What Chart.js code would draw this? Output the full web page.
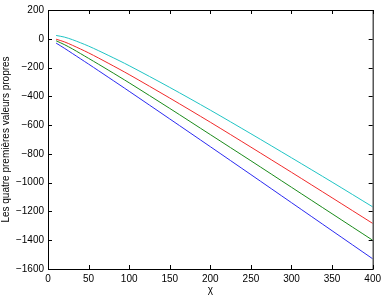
<!DOCTYPE html>
<html>
<head>
<meta charset="utf-8">
<script src="https://cdn.jsdelivr.net/npm/chart.js@4.4.1/dist/chart.umd.min.js"></script>
<style>
  html, body { margin: 0; padding: 0; background: #fff; }
  canvas { display: block; }
</style>
</head>
<body>
<canvas id="eigenChart" width="385" height="302"></canvas>
<script>
// Data
const chiValues = [10, 20, 30, 50, 75, 100, 150, 200, 250, 300, 350, 400];
const lambda1 = [-30, -65, -102, -176, -270, -365, -557, -750, -944, -1139, -1334, -1529];
const lambda2 = [-14, -40, -70, -136, -220, -306, -484, -666, -848, -1032, -1216, -1400];
const lambda3 = [-3, -21, -45, -98, -172, -249, -412, -580, -753, -928, -1105, -1283];
const lambda4 = [23, 12, -6, -51, -117, -187, -338, -496, -660, -827, -996, -1168];
const xTicks = [0, 50, 100, 150, 200, 250, 300, 350, 400];
const yTicks = [-1600, -1400, -1200, -1000, -800, -600, -400, -200, 0, 200];

const font = { family: '"Liberation Sans", Arial, Helvetica, sans-serif', size: 10 };

function toPoints(values) {
    return chiValues.map((c, i) => ({ x: c, y: values[i] }));
}

// MATLAB style minus sign
function minusSign(v) {
    return v < 0 ? '\u2212' + Math.abs(v) : String(v);
}

// Plot box with inward ticks on all four sides
const boxTicks = {
    id: 'boxTicks',
    afterDraw(chart) {
        const { ctx, chartArea: a, scales: { x, y } } = chart;
        const len = 4;
        ctx.save();
        ctx.strokeStyle = '#000';
        ctx.lineWidth = 1;
        ctx.strokeRect(a.left + 0.5, a.top + 0.5, a.right - a.left, a.bottom - a.top);
        ctx.beginPath();
        xTicks.forEach(v => {
            const px = Math.round(x.getPixelForValue(v)) + 0.5;
            ctx.moveTo(px, a.bottom); ctx.lineTo(px, a.bottom - len);
            ctx.moveTo(px, a.top); ctx.lineTo(px, a.top + len);
        });
        yTicks.forEach(v => {
            const py = Math.round(y.getPixelForValue(v)) + 0.5;
            ctx.moveTo(a.left, py); ctx.lineTo(a.left + len, py);
            ctx.moveTo(a.right, py); ctx.lineTo(a.right - len, py);
        });
        ctx.stroke();
        ctx.restore();
    }
};

const line = (data, color) => ({
    data: toPoints(data),
    borderColor: color,
    borderWidth: 1,
    pointRadius: 0,
    tension: 0.3,
    fill: false
});

new Chart(document.getElementById('eigenChart'), {
    type: 'line',
    data: {
        datasets: [
            line(lambda1, '#2a2af0'),
            line(lambda2, '#1a8a1a'),
            line(lambda3, '#f02a2a'),
            line(lambda4, '#20c4c4')
        ]
    },
    options: {
        responsive: false,
        animation: false,
        events: [],
        layout: { padding: { top: 10, right: 9, left: 0, bottom: 0 } },
        plugins: { legend: { display: false }, tooltip: { enabled: false } },
        scales: {
            x: {
                type: 'linear',
                min: 0,
                max: 400,
                afterBuildTicks: s => { s.ticks = xTicks.map(v => ({ value: v })); },
                afterFit: s => { s.height = 33; },
                grid: { display: false, drawTicks: false },
                border: { display: false },
                ticks: { color: '#000', font: font, padding: 4, maxRotation: 0, callback: v => minusSign(v) },
                title: { display: true, text: 'χ', color: '#000', font: font, padding: { top: 0, bottom: 6 } }
            },
            y: {
                min: -1600,
                max: 200,
                afterBuildTicks: s => { s.ticks = yTicks.map(v => ({ value: v })); },
                afterFit: s => { s.width = 48; },
                grid: { display: false, drawTicks: false },
                border: { display: false },
                ticks: { color: '#000', font: font, padding: 4, autoSkip: false, callback: v => minusSign(v) },
                title: { display: true, text: 'Les quatre premières valeurs propres', color: '#000', font: font, padding: { top: 0, bottom: 0 } }
            }
        }
    },
    plugins: [boxTicks]
});
</script>
</body>
</html>
